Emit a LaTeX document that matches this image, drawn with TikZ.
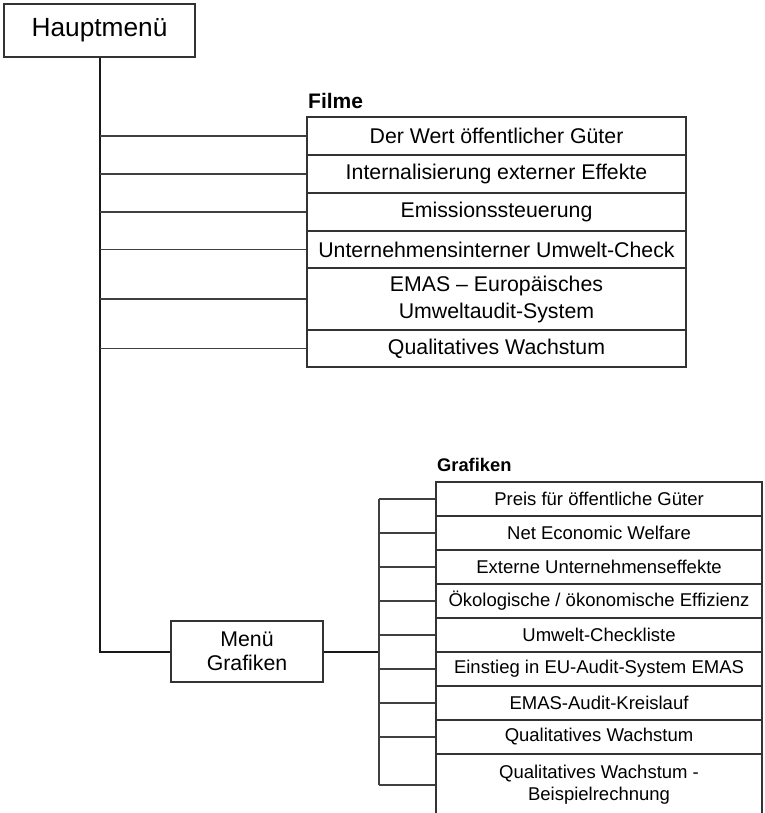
\documentclass[tikz,border=0pt]{standalone}
\usepackage{fontspec}
\setmainfont{Liberation Sans}
\usepackage{tikz}
\usetikzlibrary{positioning}

\begin{document}
\begin{tikzpicture}[
            x=1pt, y=-1pt,
            mainbox/.style={draw=black!80, line width=1.5pt, fill=white, inner sep=0pt, minimum width=191pt, minimum height=53pt, font=\fontsize{26.3}{30}\selectfont},
            menubox/.style={draw=black!80, line width=1.3pt, fill=white, inner sep=0pt, align=center, minimum width=152pt, minimum height=61pt, font=\fontsize{21.3}{24}\selectfont},
            filmrow/.style={draw=black!80, line width=1.2pt, inner sep=0pt, align=center, minimum width=379pt, font=\fontsize{21.3}{27}\selectfont},
            grafrow/.style={draw=black!80, line width=1.2pt, inner sep=0pt, align=center, minimum width=326pt, minimum height=34pt, font=\fontsize{18.5}{22}\selectfont},
            header/.style={inner sep=0pt, anchor=west, font=\bfseries},
            trunk/.style={line width=2pt, black!90},
            branch/.style={line width=1.2pt, black!75},
            ]
            \useasboundingbox (0,0) rectangle (764,813);

            \node[mainbox]  (haupt) at (99.5,30.5) {Hauptmenü};
            \node[menubox]  (menu)  at (247,651.5) {Menü\\Grafiken};

            % Filme
            \node[header, font=\bfseries\fontsize{21}{24}\selectfont] (filme) at (308,101) {Filme};
            \node[filmrow, minimum height=38pt] (f1) at (496.5,136) {Der Wert öffentlicher Güter};
            \node[filmrow, minimum height=38pt] (f2) at (496.5,174) {Internalisierung externer Effekte};
            \node[filmrow, minimum height=38pt] (f3) at (496.5,212) {Emissionssteuerung};
            \node[filmrow, minimum height=37pt] (f4) at (496.5,249.5) {Unternehmensinterner Umwelt-Check};
            \node[filmrow, minimum height=62pt] (f5) at (496.5,299) {EMAS -- Europäisches\\Umweltaudit-System};
            \node[filmrow, minimum height=37pt] (f6) at (496.5,348.5) {Qualitatives Wachstum};

            % Grafiken
            \node[header, font=\bfseries\fontsize{18.3}{21}\selectfont] (grafiken) at (437,465) {Grafiken};
            \node[grafrow] (g1) at (599,499) {Preis für öffentliche Güter};
            \node[grafrow] (g2) at (599,533) {Net Economic Welfare};
            \node[grafrow] (g3) at (599,567) {Externe Unternehmenseffekte};
            \node[grafrow] (g4) at (599,601) {Ökologische / ökonomische Effizienz};
            \node[grafrow] (g5) at (599,635) {Umwelt-Checkliste};
            \node[grafrow] (g6) at (599,669) {Einstieg in EU-Audit-System EMAS};
            \node[grafrow] (g7) at (599,703) {EMAS-Audit-Kreislauf};
            \node[grafrow] (g8) at (599,737) {Qualitatives Wachstum};
            \node[grafrow, minimum height=62pt] (g9) at (599,785) {Qualitatives Wachstum -\\Beispielrechnung};

            \coordinate (gbus) at (379,499);

            \draw[trunk] (haupt.south) -- (haupt.south |- menu.west) -- (menu.west);
            \foreach \i in {1,...,6}
                \draw[branch] (haupt.south |- f\i.west) -- (f\i.west);

            \draw[trunk] (menu.east) -- (gbus |- menu.east);
            \draw[branch] (gbus) -- (gbus |- g9.west);
            \foreach \i in {1,...,9}
                \draw[branch] (gbus |- g\i.west) -- (g\i.west);
        \end{tikzpicture}
\end{document}
